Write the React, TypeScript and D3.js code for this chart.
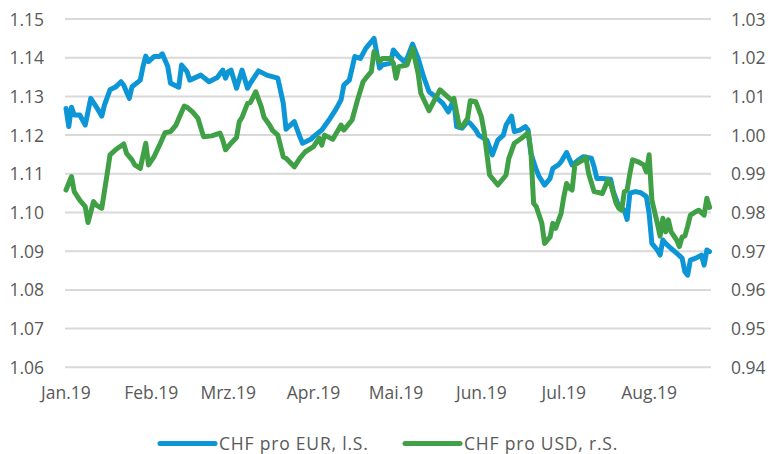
import React from "react";
import * as d3 from "d3";

const monthLabels = ["Jan.19", "Feb.19", "Mrz.19", "Apr.19", "Mai.19", "Jun.19", "Jul.19", "Aug.19"];
const monthStarts = ["2019-01-01", "2019-02-01", "2019-03-01", "2019-04-01", "2019-05-01", "2019-06-01", "2019-07-01", "2019-08-01"];
const leftTicks = [1.06, 1.07, 1.08, 1.09, 1.1, 1.11, 1.12, 1.13, 1.14, 1.15];
const rightTicks = [0.94, 0.95, 0.96, 0.97, 0.98, 0.99, 1.0, 1.01, 1.02, 1.03];
const seriesNames = ["CHF pro EUR, l.S.", "CHF pro USD, r.S."];

const eurDates = [
  "2019-01-01","2019-01-02","2019-01-03","2019-01-04","2019-01-06","2019-01-08","2019-01-10","2019-01-12","2019-01-14","2019-01-15",
  "2019-01-17","2019-01-19","2019-01-21","2019-01-22","2019-01-24","2019-01-25","2019-01-28","2019-01-29","2019-01-30","2019-01-31",
  "2019-02-02","2019-02-04","2019-02-05","2019-02-07","2019-02-08","2019-02-11","2019-02-12","2019-02-14","2019-02-15","2019-02-19",
  "2019-02-22","2019-02-25","2019-02-27","2019-02-28","2019-03-01","2019-03-02","2019-03-04","2019-03-06","2019-03-08","2019-03-09",
  "2019-03-12","2019-03-15","2019-03-17","2019-03-19","2019-03-21","2019-03-22","2019-03-23","2019-03-25","2019-03-27","2019-03-28",
  "2019-03-31","2019-04-01","2019-04-04","2019-04-07","2019-04-09","2019-04-11","2019-04-12","2019-04-14","2019-04-16","2019-04-18",
  "2019-04-20","2019-04-23","2019-04-25","2019-04-26","2019-04-29","2019-04-30","2019-05-02","2019-05-04","2019-05-05","2019-05-07",
  "2019-05-09","2019-05-11","2019-05-13","2019-05-16","2019-05-18","2019-05-20","2019-05-22","2019-05-23","2019-05-25","2019-05-27",
  "2019-05-28","2019-05-30","2019-05-31","2019-06-03","2019-06-05","2019-06-07","2019-06-09","2019-06-10","2019-06-12","2019-06-13",
  "2019-06-15","2019-06-17","2019-06-18","2019-06-19","2019-06-21","2019-06-22","2019-06-24","2019-06-26","2019-06-27","2019-06-29",
  "2019-06-30","2019-07-02","2019-07-04","2019-07-06","2019-07-08","2019-07-11","2019-07-12","2019-07-13","2019-07-15","2019-07-18",
  "2019-07-19","2019-07-21","2019-07-23","2019-07-24","2019-07-25","2019-07-27","2019-07-29","2019-07-31","2019-08-01","2019-08-02",
  "2019-08-04","2019-08-05","2019-08-06","2019-08-07","2019-08-09","2019-08-11","2019-08-13","2019-08-14","2019-08-15","2019-08-16",
  "2019-08-18","2019-08-20","2019-08-21","2019-08-22","2019-08-23"
];
const eurValues = [
  1.1269,1.1222,1.1272,1.1252,1.1252,1.1226,1.1295,1.1273,1.1249,1.1278,
  1.1317,1.1324,1.1338,1.1329,1.1295,1.1325,1.1342,1.1377,1.1404,1.1390,
  1.1403,1.1403,1.1410,1.1377,1.1334,1.1324,1.1381,1.1364,1.1342,1.1355,
  1.1338,1.1349,1.1368,1.1347,1.1364,1.1368,1.1321,1.1368,1.1321,1.1334,
  1.1366,1.1355,1.1351,1.1347,1.1282,1.1215,1.1222,1.1235,1.1196,1.1179,
  1.1189,1.1196,1.1213,1.1243,1.1265,1.1291,1.1329,1.1342,1.1403,1.1398,
  1.1424,1.1450,1.1373,1.1381,1.1386,1.1420,1.1403,1.1390,1.1398,1.1435,
  1.1399,1.1351,1.1312,1.1295,1.1282,1.1260,1.1291,1.1222,1.1218,1.1235,
  1.1230,1.1213,1.1200,1.1187,1.1149,1.1187,1.1200,1.1226,1.1249,1.1209,
  1.1213,1.1222,1.1213,1.1153,1.1110,1.1093,1.1071,1.1088,1.1114,1.1123,
  1.1131,1.1155,1.1123,1.1134,1.1144,1.1140,1.1118,1.1088,1.1088,1.1086,
  1.1054,1.1015,1.1006,1.0982,1.1050,1.1054,1.1051,1.1041,1.0998,1.0920,
  1.0903,1.0890,1.0929,1.0920,1.0907,1.0895,1.0882,1.0847,1.0838,1.0877,
  1.0882,1.0890,1.0864,1.0903,1.0899
];

const usdDates = [
  "2019-01-01","2019-01-03","2019-01-04","2019-01-06","2019-01-08","2019-01-09","2019-01-11","2019-01-12","2019-01-14","2019-01-16",
  "2019-01-17","2019-01-19","2019-01-22","2019-01-23","2019-01-25","2019-01-26","2019-01-28","2019-01-30","2019-01-31","2019-02-02",
  "2019-02-04","2019-02-06","2019-02-08","2019-02-10","2019-02-11","2019-02-13","2019-02-14","2019-02-16","2019-02-18","2019-02-20",
  "2019-02-23","2019-02-26","2019-02-27","2019-02-28","2019-03-02","2019-03-04","2019-03-05","2019-03-06","2019-03-08","2019-03-09",
  "2019-03-11","2019-03-13","2019-03-14","2019-03-16","2019-03-17","2019-03-19","2019-03-21","2019-03-22","2019-03-25","2019-03-27",
  "2019-03-29","2019-04-01","2019-04-03","2019-04-04","2019-04-05","2019-04-08","2019-04-11","2019-04-12","2019-04-15","2019-04-17",
  "2019-04-19","2019-04-20","2019-04-22","2019-04-23","2019-04-25","2019-04-26","2019-04-29","2019-04-30","2019-05-01","2019-05-02",
  "2019-05-05","2019-05-07","2019-05-09","2019-05-10","2019-05-13","2019-05-15","2019-05-17","2019-05-19","2019-05-21","2019-05-22",
  "2019-05-24","2019-05-25","2019-05-27","2019-05-28","2019-05-30","2019-06-01","2019-06-02","2019-06-04","2019-06-07","2019-06-10",
  "2019-06-11","2019-06-13","2019-06-16","2019-06-18","2019-06-19","2019-06-20","2019-06-21","2019-06-23","2019-06-24","2019-06-26",
  "2019-06-27","2019-06-28","2019-06-30","2019-07-01","2019-07-02","2019-07-03","2019-07-04","2019-07-05","2019-07-08","2019-07-09",
  "2019-07-10","2019-07-12","2019-07-14","2019-07-15","2019-07-17","2019-07-18","2019-07-20","2019-07-21","2019-07-22","2019-07-23",
  "2019-07-24","2019-07-25","2019-07-26","2019-07-28","2019-07-30","2019-07-31","2019-08-01","2019-08-02","2019-08-04","2019-08-05",
  "2019-08-06","2019-08-07","2019-08-08","2019-08-09","2019-08-11","2019-08-12","2019-08-13","2019-08-14","2019-08-15","2019-08-16",
  "2019-08-18","2019-08-19","2019-08-21","2019-08-22","2019-08-23"
];
const usdValues = [
  0.9858,0.9893,0.9854,0.9832,0.9815,0.9774,0.9828,0.9819,0.9811,0.9901,
  0.9949,0.9962,0.9977,0.9953,0.9936,0.9923,0.9914,0.9979,0.9923,0.9944,
  0.9974,1.0006,1.0009,1.0026,1.0043,1.0075,1.0072,1.0060,1.0043,0.9996,
  0.9998,1.0005,0.9987,0.9962,0.9979,0.9994,1.0035,1.0046,1.0082,1.0084,
  1.0112,1.0073,1.0046,1.0026,1.0013,1.0000,0.9944,0.9940,0.9918,0.9940,
  0.9957,0.9970,0.9992,0.9974,1.0000,0.9989,1.0026,1.0013,1.0039,1.0091,
  1.0138,1.0147,1.0164,1.0216,1.0190,1.0198,1.0198,1.0186,1.0147,1.0177,
  1.0181,1.0224,1.0160,1.0108,1.0063,1.0091,1.0117,1.0104,1.0091,1.0095,
  1.0022,1.0022,1.0043,1.0089,1.0086,1.0048,1.0009,0.9897,0.9871,0.9897,
  0.9940,0.9979,0.9994,1.0006,0.9962,0.9824,0.9815,0.9772,0.9720,0.9737,
  0.9772,0.9759,0.9798,0.9841,0.9875,0.9863,0.9858,0.9923,0.9936,0.9943,
  0.9901,0.9854,0.9851,0.9849,0.9884,0.9875,0.9824,0.9811,0.9806,0.9854,
  0.9858,0.9901,0.9936,0.9931,0.9923,0.9905,0.9949,0.9832,0.9772,0.9739,
  0.9785,0.9750,0.9781,0.9750,0.9729,0.9712,0.9737,0.9739,0.9764,0.9793,
  0.9802,0.9806,0.9793,0.9837,0.9813
];

const BLUE = "#0C96D6";
const GREEN = "#3FA046";
const TEXT = "#595959";
const GRID = "#D9D9D9";
const FONT = "'Open Sans', 'Noto Sans', sans-serif";

export default function App() {
  const parse = d3.timeParse("%Y-%m-%d");
  const W = 770, H = 454;
  const plotL = 65, plotR = 711, plotT = 19, plotB = 367.3;

  const x = d3.scaleTime()
    .domain([new Date(2019, 0, 1), new Date(2019, 7, 23, 12)])
    .range([66, 711]);
  const yL = d3.scaleLinear().domain([1.06, 1.15]).range([plotB, plotT]);
  const yR = d3.scaleLinear().domain([0.94, 1.03]).range([plotB, plotT]);

  const eur = eurDates.map((d, i) => ({ date: parse(d) as Date, v: eurValues[i] }));
  const usd = usdDates.map((d, i) => ({ date: parse(d) as Date, v: usdValues[i] }));

  const lineL = d3.line<{ date: Date; v: number }>().x(d => x(d.date)).y(d => yL(d.v));
  const lineR = d3.line<{ date: Date; v: number }>().x(d => x(d.date)).y(d => yR(d.v));

  const fmt = d3.format(".2f");

  return (
    <div>
      <style>{`body{margin:0}`}</style>
      <svg width={W} height={H} style={{ display: "block", fontFamily: FONT }}>
        <rect width={W} height={H} fill="#fff" />
        {leftTicks.map(t => (
          <line key={"g" + t} x1={plotL} x2={plotR} y1={yL(t)} y2={yL(t)} stroke={GRID} strokeWidth={2} />
        ))}
        {leftTicks.map(t => (
          <text key={"l" + t} x={44} y={yL(t) + 6.5} textAnchor="end" fontSize={17.5} fill={TEXT}>{fmt(t)}</text>
        ))}
        {rightTicks.map(t => (
          <text key={"r" + t} x={731} y={yR(t) + 6.5} textAnchor="start" fontSize={17.5} fill={TEXT}>{fmt(t)}</text>
        ))}
        {monthStarts.map((m, i) => (
          <text key={m} x={x(parse(m) as Date)} y={399} textAnchor="middle" fontSize={17.5} fill={TEXT}>{monthLabels[i]}</text>
        ))}
        <path d={lineL(eur) || ""} fill="none" stroke={BLUE} strokeWidth={5} strokeLinejoin="round" strokeLinecap="round" />
        <path d={lineR(usd) || ""} fill="none" stroke={GREEN} strokeWidth={5} strokeLinejoin="round" strokeLinecap="round" />
        <g>
          <line x1={160} x2={215} y1={443.5} y2={443.5} stroke={BLUE} strokeWidth={5} strokeLinecap="round" />
          <text x={219} y={449.5} fontSize={17.5} letterSpacing={0.8} fill={TEXT}>{seriesNames[0]}</text>
          <line x1={405} x2={460} y1={443.5} y2={443.5} stroke={GREEN} strokeWidth={5} strokeLinecap="round" />
          <text x={464} y={449.5} fontSize={17.5} letterSpacing={0.8} fill={TEXT}>{seriesNames[1]}</text>
        </g>
      </svg>
    </div>
  );
}
